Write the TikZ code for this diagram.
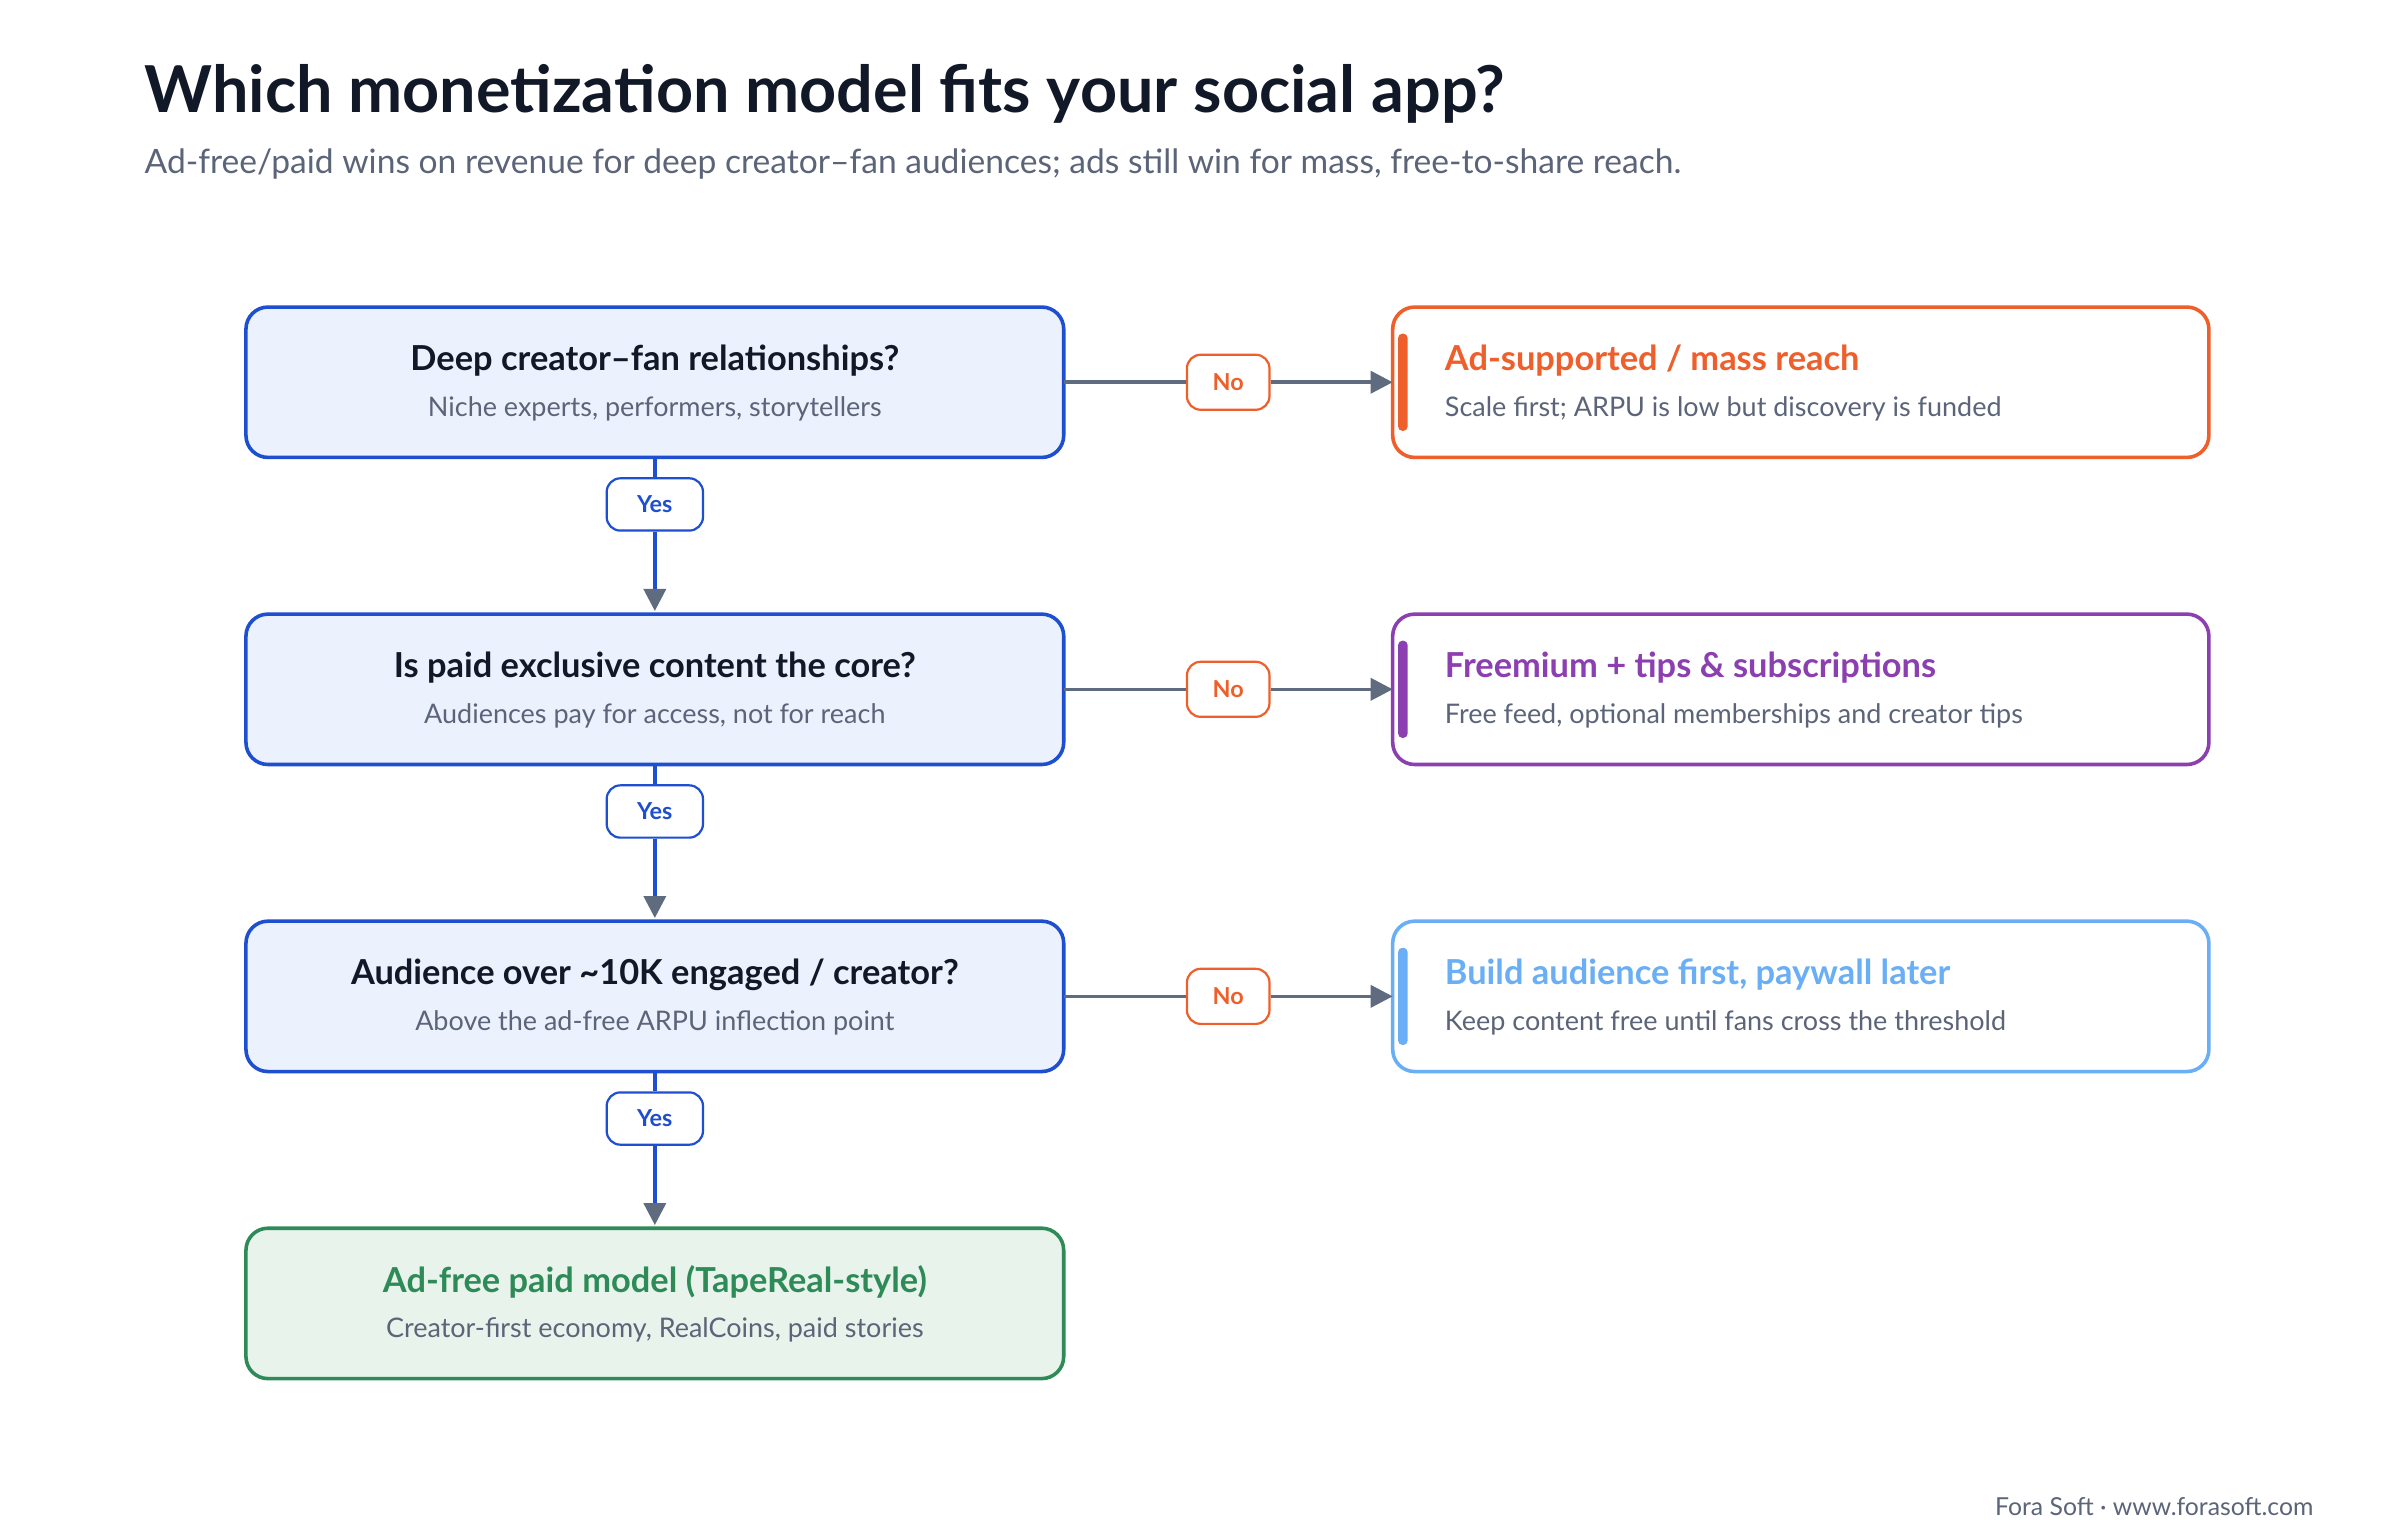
\documentclass[tikz,border=0pt]{standalone}
\usepackage{fontspec}
\setmainfont{Lato}
\usetikzlibrary{arrows.meta}
\definecolor{bl}{HTML}{1D4FD0}
\definecolor{blf}{HTML}{EBF2FE}
\definecolor{dk}{HTML}{111827}
\definecolor{gt}{HTML}{5B6478}
\definecolor{ar}{HTML}{5F6B7F}
\definecolor{or}{HTML}{EE5F2B}
\definecolor{pu}{HTML}{8B3FB0}
\definecolor{lb}{HTML}{6AAEF5}
\definecolor{gr}{HTML}{2E8B57}
\definecolor{grf}{HTML}{E8F3EC}
\begin{document}
\begin{tikzpicture}[x=0.02cm,y=-0.02cm,
 ttl/.style={font=\bfseries\fontsize{12.5}{14}\selectfont,text=dk},
 sub/.style={font=\fontsize{9.8}{11}\selectfont,text=gt},
 no/.style={draw=or,fill=white,line width=0.8pt,rounded corners=5pt,minimum width=30pt,minimum height=20pt,font=\bfseries\fontsize{8.5}{9}\selectfont,text=or},
 yes/.style={draw=bl,fill=white,line width=0.8pt,rounded corners=5pt,minimum width=35pt,minimum height=19pt,font=\bfseries\fontsize{8.5}{9}\selectfont,text=bl},
 ha/.style={ar,line width=1.3pt,-{Triangle[length=8pt,width=8pt]}},
 hl/.style={ar,line width=1.3pt},
 va/.style={bl,line width=1.3pt,-{Triangle[length=8pt,width=8pt,color=ar,fill=ar]}},
 vl/.style={bl,line width=1.3pt}]
\useasboundingbox (0,0) rectangle (1532,970);
\fill[white] (0,0) rectangle (1532,970);
\node[anchor=west,inner sep=0,font=\bfseries\fontsize{23.5}{25}\selectfont,text=dk] (t) at (92,60) {Which monetization model fits your social app?};
\node[anchor=west,inner sep=0,font=\fontsize{12.2}{14}\selectfont,text=gt] (s) at (92,105) {Ad-free/paid wins on revenue for deep creator–fan audiences; ads still win for mass, free-to-share reach.};
% left boxes
\foreach \n/\y/\a/\b in {q1/244/{Deep creator–fan relationships?}/{Niche experts, performers, storytellers},
 q2/440/{Is paid exclusive content the core?}/{Audiences pay for access, not for reach},
 q3/636/{Audience over \textasciitilde10K engaged / creator?}/{Above the ad-free ARPU inflection point}}{
 \draw[draw=bl,fill=blf,line width=1.3pt,rounded corners=8pt] (157,\y-48) rectangle (679,\y+48);
 \coordinate (\n) at (418,\y);
 \node[ttl] at (418,\y-14) {\a};
 \node[sub] at (418,\y+17) {\b};
}
\draw[draw=gr,fill=grf,line width=1.3pt,rounded corners=8pt] (157,784) rectangle (679,880);
\coordinate (q4) at (418,832);
\node[ttl,text=gr] at (418,818) {Ad-free paid model (TapeReal-style)};
\node[sub] at (418,849) {Creator-first economy, RealCoins, paid stories};
% right boxes
\foreach \n/\y/\c/\a/\b in {r1/244/or/{Ad-supported / mass reach}/{Scale first; ARPU is low but discovery is funded},
 r2/440/pu/{Freemium + tips \& subscriptions}/{Free feed, optional memberships and creator tips},
 r3/636/lb/{Build audience first, paywall later}/{Keep content free until fans cross the threshold}}{
 \draw[draw=\c,fill=white,line width=1.3pt,rounded corners=8pt] (889,\y-48) rectangle (1410,\y+48);
 \fill[\c,rounded corners=1.5pt] (892.5,\y-31) rectangle (898.5,\y+31);
 \node[ttl,text=\c,anchor=west,inner sep=0] at (922,\y-14) {\a};
 \node[sub,anchor=west,inner sep=0] at (922,\y+17) {\b};
 \coordinate (\n) at (889,\y);
}
% connectors
\foreach \y/\i in {244/1,440/2,636/3}{
 \node[no] (n\i) at (784,\y) {No};
 \draw[hl] (679,\y) -- (n\i);
 \draw[ha] (n\i) -- (r\i);
 \node[yes] (y\i) at (418,\y+78) {Yes};
 \draw[vl] (418,\y+48) -- (y\i);
 \draw[va] (y\i) -- (418,\y+146);
}
\node[anchor=east,inner sep=0,font=\fontsize{9}{10}\selectfont,text=gt] (f) at (1477,962) {Fora Soft · www.forasoft.com};
\end{tikzpicture}
\end{document}
